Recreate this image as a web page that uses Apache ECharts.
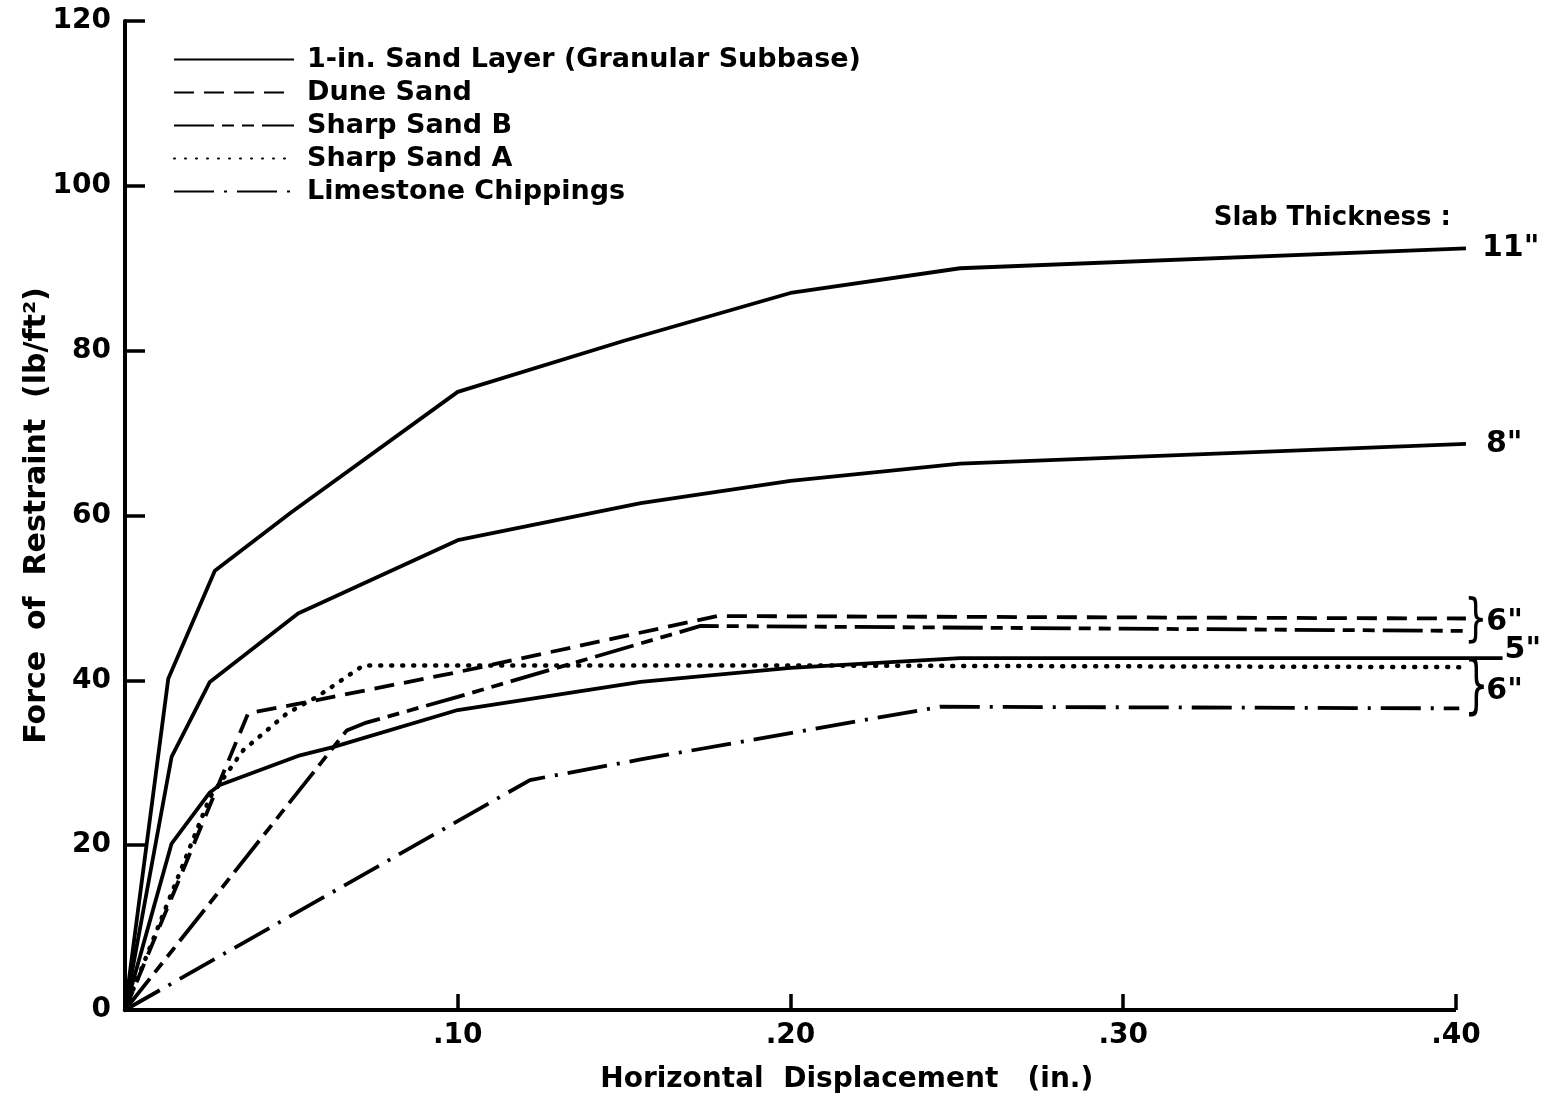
<!DOCTYPE html>
<html><head><meta charset="utf-8">
<script src="https://cdn.jsdelivr.net/npm/echarts@6/dist/echarts.min.js"></script>
<style>html,body{margin:0;padding:0;background:#fff}#c{width:1552px;height:1099px}</style>
</head><body><div id="c"></div>
<script>
// ---- data ----
const legendNames = ['1-in. Sand Layer (Granular Subbase)', 'Dune Sand', 'Sharp Sand B', 'Sharp Sand A', 'Limestone Chippings'];
const xTickValues = [0.1, 0.2, 0.3, 0.4];
const yTickValues = [0, 20, 40, 60, 80, 100, 120];
const slab11 = [[0,0],[0.013,40.2],[0.027,53.3],[0.05,60.4],[0.10,75],[0.15,81.2],[0.20,87],[0.251,90],[0.403,92.4]];
const slab8  = [[0,0],[0.014,30.7],[0.0255,39.8],[0.052,48.1],[0.10,57],[0.155,61.5],[0.20,64.2],[0.251,66.3],[0.403,68.7]];
const slab5  = [[0,0],[0.014,20.2],[0.0255,26.4],[0.0285,27.3],[0.0526,30.9],[0.0625,31.9],[0.10,36.4],[0.155,39.8],[0.20,41.5],[0.251,42.7],[0.414,42.7]];
const duneSand   = [[0,0],[0.037,36],[0.0526,37.2],[0.10,41],[0.178,47.8],[0.403,47.5]];
const sharpSandB = [[0,0],[0.0666,33.9],[0.072,34.8],[0.10,38],[0.173,46.6],[0.403,46]];
const sharpSandA = [[0,0],[0.0255,25.8],[0.0355,31.5],[0.0487,36],[0.0577,38],[0.0716,41.8],[0.20,41.8],[0.402,41.6]];
const limestone  = [[0,0],[0.1217,27.9],[0.155,30.4],[0.20,33.6],[0.245,36.8],[0.401,36.6]];
const slabLabels = ['11"', '8"', '5"', '6"', '6"'];

const FONT = 'DejaVu Sans';
const chart = echarts.init(document.getElementById('c'), null, {renderer: 'canvas'});

function line(name, data, type, extra) {
  const dotted = Array.isArray(type) && type[0] === 1;
  return Object.assign({
    name, type: 'line', data, symbol: 'none', clip: false, animation: false,
    color: '#000',
    lineStyle: {color: '#000', width: dotted ? 4.5 : 3.8, type: type, cap: dotted ? 'round' : 'butt'}
  }, extra || {});
}
const endLbl = (txt, off, dist) => ({show: true, formatter: txt, color: '#000', fontFamily: FONT, fontWeight: 'bold', fontSize: 30,
  distance: dist == null ? 16 : dist, offset: off || [0, 0]});

chart.setOption({
  backgroundColor: '#fff',
  animation: false,
  grid: {left: 125, right: 29.5, top: 21, bottom: 89},
  legend: {
    data: legendNames, orient: 'vertical', left: 168, top: 41,
    itemWidth: 120, itemHeight: 16, itemGap: 6,
    itemStyle: {opacity: 0, borderWidth: 0},
    textStyle: {color: '#000', fontFamily: FONT, fontWeight: 'bold', fontSize: 27, padding: [0, 0, 0, 8]},
    selectedMode: false
  },
  xAxis: {
    type: 'value', min: 0, max: 0.42, interval: 0.1,
    name: 'Horizontal  Displacement   (in.)', nameLocation: 'middle', nameGap: 56, nameMoveOverlap: false,
    nameTextStyle: {color: '#000', fontFamily: FONT, fontWeight: 'bold', fontSize: 28, padding: [0, 0, 0, 46]},
    axisLine: {show: false},
    axisTick: {show: true, inside: true, length: 16, customValues: xTickValues, lineStyle: {color: '#000', width: 3.5}},
    axisLabel: {color: '#000', fontFamily: FONT, fontWeight: 'bold', fontSize: 28, margin: 12, customValues: xTickValues,
      formatter: v => v.toFixed(2).replace(/^0/, '')},
    splitLine: {show: false}
  },
  yAxis: {
    type: 'value', min: 0, max: 120, interval: 20,
    name: 'Force  of  Restraint  (lb/ft²)', nameLocation: 'middle', nameGap: 73, nameRotate: 90, nameMoveOverlap: false,
    nameTextStyle: {color: '#000', fontFamily: FONT, fontWeight: 'bold', fontSize: 30},
    axisLine: {show: true, lineStyle: {color: '#000', width: 4}},
    axisTick: {show: true, inside: true, length: 20, lineStyle: {color: '#000', width: 3.5}},
    axisLabel: {color: '#000', fontFamily: FONT, fontWeight: 'bold', fontSize: 28, margin: 14},
    splitLine: {show: false}
  },
  series: [
    line(legendNames[0], slab11, 'solid', {endLabel: endLbl(slabLabels[0]),
      markLine: {silent: true, symbol: 'none', animation: false, label: {show: false},
        lineStyle: {color: '#000', width: 4, type: 'solid'},
        data: [[{coord: [0, 0]}, {coord: [0.4, 0]}]]}}),
    line(legendNames[0], slab8, 'solid', {endLabel: endLbl(slabLabels[1], [0, 0], 20)}),
    line(legendNames[0], slab5, 'solid', {endLabel: endLbl(slabLabels[2], [0, -8], 2)}),
    line(legendNames[1], duneSand, [20, 10]),
    line(legendNames[2], sharpSandB, [40, 8, 12, 8, 12, 8]),
    line(legendNames[3], sharpSandA, [1, 10]),
    line(legendNames[4], limestone, [40, 10, 3, 10])
  ]
});

// annotations placed through the chart's own coordinate system
const P = (x, y) => chart.convertToPixel({gridIndex: 0}, [x, y]);
const a1 = P(0.4025, 47.1), a2 = P(0.4025, 38.9);
const b1 = P(0.3985, 96.1);
const txt = (x, y, s, size, extra, align) => Object.assign({type: 'text', x, y,
  style: {text: s, fill: '#000', font: 'bold ' + size + 'px "' + FONT + '"', textAlign: align || 'left', textVerticalAlign: 'middle'}}, extra || {});
chart.setOption({
  graphic: [
    txt(a1[0], a1[1], '}', 52, {scaleX: 0.7, style: {text: '}', fill: '#000', font: '52px "' + FONT + '"', textVerticalAlign: 'middle'}}),
    txt(a1[0] + 22, a1[1], slabLabels[3], 30),
    txt(a2[0], a2[1], '}', 64, {scaleX: 0.6, style: {text: '}', fill: '#000', font: '64px "' + FONT + '"', textVerticalAlign: 'middle'}}),
    txt(a2[0] + 22, a2[1] + 2, slabLabels[4], 30),
    txt(b1[0], b1[1], 'Slab Thickness :', 26, null, 'right')
  ]
});
</script></body></html>
